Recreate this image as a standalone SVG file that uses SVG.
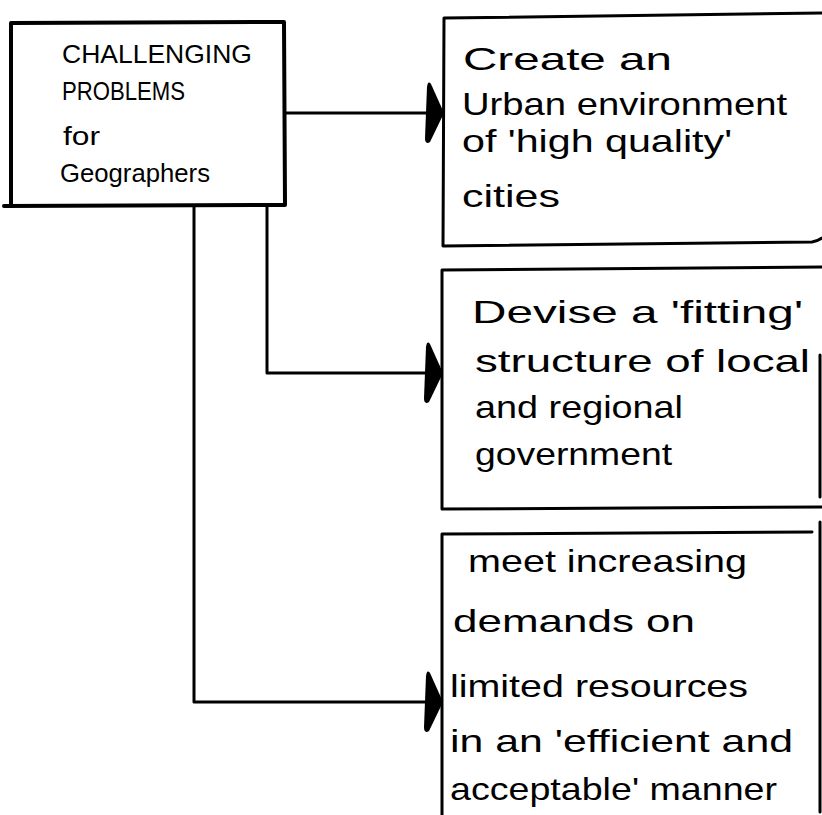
<svg xmlns="http://www.w3.org/2000/svg" width="822" height="815" viewBox="0 0 822 815">
  <style>
    .frame { fill: none; stroke: #000; stroke-width: 3; stroke-linejoin: round; stroke-linecap: round; }
    .frame-main { fill: none; stroke: #000; stroke-width: 4; stroke-linejoin: round; stroke-linecap: round; }
    .wire { fill: none; stroke: #000; stroke-width: 3; stroke-linejoin: round; }
    .title { font-family: "Liberation Sans", Arial, sans-serif; font-size: 26px; fill: #000; }
    .body { font-family: "Liberation Sans", Arial, sans-serif; font-size: 32px; fill: #000; }
  </style>
  <defs>
    <!-- tall narrow filled arrowhead, tip at the line end -->
    <marker id="head" markerUnits="userSpaceOnUse" viewBox="-20 -33 22 66" refX="0" refY="0" markerWidth="22" markerHeight="66" orient="auto" overflow="visible">
      <path d="M1,0 L-12,-29 Q-15,-33 -16,-26 L-18,25 Q-18,32 -13,29 Z" fill="#000"/>
    </marker>
  </defs>

  <rect width="822" height="815" fill="#fff"/>

  <!-- connectors -->
  <g id="connectors">
    <path class="wire" d="M285,113 L443,113" marker-end="url(#head)"/>
    <path class="wire" d="M267,206 L267,373 L442,373" marker-end="url(#head)"/>
    <path class="wire" d="M194,206 L194,702 L442,702" marker-end="url(#head)"/>
  </g>

  <!-- source node -->
  <g id="node-challenges">
    <path class="frame-main" d="M11,23 L284,22 L285,205 L4,206 M11,23 L11,206"/>
    <text class="title" x="62" y="63" textLength="190" lengthAdjust="spacingAndGlyphs">CHALLENGING</text>
    <text class="title" x="62" y="100" textLength="123" lengthAdjust="spacingAndGlyphs">PROBLEMS</text>
    <text class="title" x="63" y="145" textLength="37" lengthAdjust="spacingAndGlyphs">for</text>
    <text class="title" x="60" y="182" textLength="150" lengthAdjust="spacingAndGlyphs">Geographers</text>
  </g>

  <!-- target: urban environment -->
  <g id="node-urban">
    <path class="frame" d="M822,13 L444,18 L443,246 L812,242 Q818,241 822,238"/>
    <text class="body" x="463" y="70" textLength="209" lengthAdjust="spacingAndGlyphs">Create an</text>
    <text class="body" x="462" y="115" textLength="325" lengthAdjust="spacingAndGlyphs">Urban environment</text>
    <text class="body" x="462" y="152" textLength="270" lengthAdjust="spacingAndGlyphs">of 'high quality'</text>
    <text class="body" x="462" y="207" textLength="98" lengthAdjust="spacingAndGlyphs">cities</text>
  </g>

  <!-- target: local and regional government -->
  <g id="node-government">
    <path class="frame" d="M822,267 L442,270 L442,509 L822,507"/>
    <path class="frame" d="M820,355 L820,497"/>
    <text class="body" x="472" y="323" textLength="331" lengthAdjust="spacingAndGlyphs">Devise a 'fitting'</text>
    <text class="body" x="475" y="372" textLength="335" lengthAdjust="spacingAndGlyphs">structure of local</text>
    <text class="body" x="475" y="418" textLength="208" lengthAdjust="spacingAndGlyphs">and regional</text>
    <text class="body" x="475" y="465" textLength="197" lengthAdjust="spacingAndGlyphs">government</text>
  </g>

  <!-- target: limited resources -->
  <g id="node-resources">
    <path class="frame" d="M812,532 L442,534 L442,815"/>
    <path class="frame" d="M820,522 L820,812"/>
    <text class="body" x="468" y="572" textLength="279" lengthAdjust="spacingAndGlyphs">meet increasing</text>
    <text class="body" x="453" y="632" textLength="242" lengthAdjust="spacingAndGlyphs">demands on</text>
    <text class="body" x="450" y="697" textLength="298" lengthAdjust="spacingAndGlyphs">limited resources</text>
    <text class="body" x="450" y="752" textLength="343" lengthAdjust="spacingAndGlyphs">in an 'efficient and</text>
    <text class="body" x="450" y="800" textLength="327" lengthAdjust="spacingAndGlyphs">acceptable' manner</text>
  </g>
</svg>
